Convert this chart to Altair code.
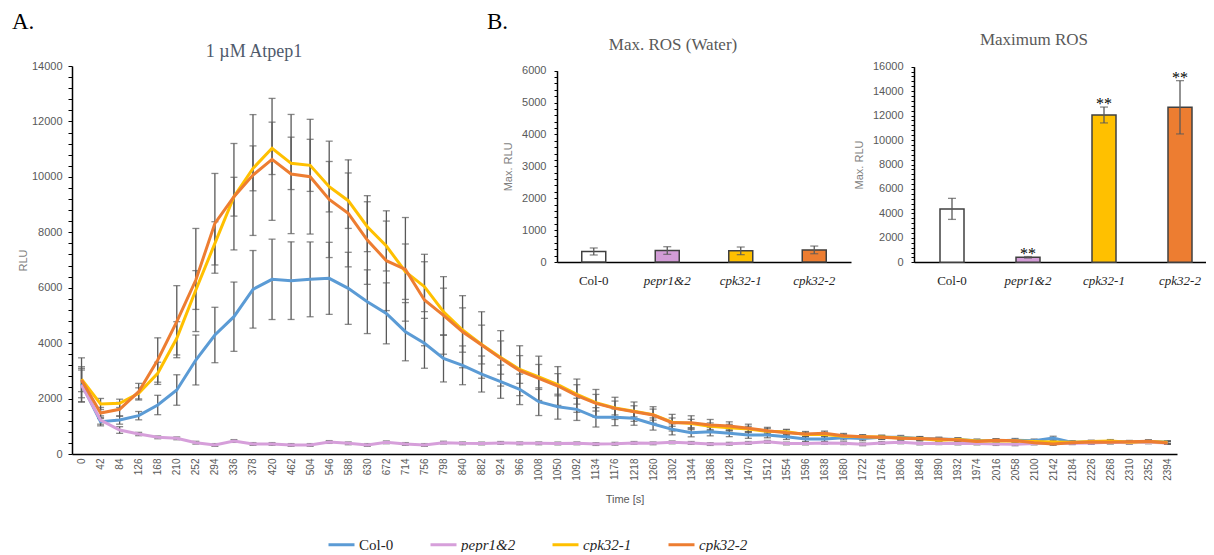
import altair as alt
import pandas as pd

# ---------------- data ----------------
times = list(range(0, 2395, 42))
series_names = ["Col-0", "pepr1&2", "cpk32-1", "cpk32-2"]
series_colors = ["#5B9BD5", "#D69FDA", "#FFC000", "#ED7D31"]

col0 = [2530, 1166, 1226, 1383, 1768, 2309, 3391, 4294, 4954, 5942,
        6302, 6254, 6302, 6338, 5978, 5495, 5075, 4413, 3994, 3450,
        3200, 2886, 2610, 2333, 1888, 1707, 1611, 1323, 1323, 1287,
        1082, 890, 770, 806, 746, 686, 686, 625, 541, 541,
        589, 560, 600, 600, 560, 540, 520, 480, 480, 500,
        480, 580, 420, 430, 440, 430, 440, 430]
pepr = [2490, 1226, 866, 721, 601, 565, 408, 325, 469, 361,
        361, 325, 325, 433, 385, 325, 421, 361, 325, 410,
        385, 380, 400, 385, 385, 380, 385, 360, 370, 400,
        385, 420, 400, 360, 370, 400, 440, 380, 380, 400,
        390, 350, 400, 420, 380, 390, 380, 380, 360, 350,
        380, 400, 390, 400, 420, 410, 420, 400]
cpk1 = [2700, 1804, 1828, 2188, 2911, 4174, 5917, 7601, 9284, 10307,
        11029, 10487, 10415, 9645, 9140, 8202, 7505, 6578, 6037, 5134,
        4473, 3950, 3480, 3050, 2780, 2500, 2150, 1850, 1660, 1540,
        1420, 1150, 1100, 1000, 950, 900, 820, 800, 700, 700,
        640, 620, 610, 580, 560, 500, 520, 470, 480, 470,
        450, 430, 420, 450, 470, 420, 450, 420]
cpk2 = [2670, 1480, 1612, 2248, 3391, 4774, 6278, 8323, 9284, 10066,
        10631, 10102, 10006, 9188, 8683, 7721, 6975, 6663, 5556, 5000,
        4413, 3933, 3451, 3006, 2730, 2453, 2104, 1828, 1647, 1527,
        1407, 1130, 1130, 1046, 1010, 926, 842, 770, 722, 746,
        661, 625, 601, 565, 550, 540, 505, 450, 500, 480,
        409, 361, 409, 430, 420, 440, 460, 400]

col0_err = [500, 150, 150, 150, 350, 550, 900, 1000, 1250, 1400,
            1450, 1400, 1350, 1300, 1300, 1150, 1100, 1050, 900, 850,
            700, 650, 600, 550, 500, 450, 400, 350, 300, 250,
            220, 200, 150, 150, 120, 120, 100, 100, 90, 90,
            80, 80, 70, 70, 70, 60, 60, 60, 60, 60,
            60, 60, 50, 50, 50, 50, 50, 50]
pepr_err = [600, 150, 120, 60, 50, 50, 50, 50, 50, 50,
            50, 50, 50, 50, 50, 50, 50, 50, 50, 50,
            50, 50, 50, 50, 50, 50, 50, 50, 50, 50,
            50, 50, 50, 50, 50, 50, 50, 50, 50, 50,
            50, 50, 50, 50, 50, 50, 50, 50, 50, 50,
            50, 50, 50, 50, 50, 50, 50, 50]
cpk1_err = [450, 200, 150, 200, 400, 600, 700, 780, 700, 810,
            945, 945, 940, 910, 1000, 900, 900, 1000, 900, 850,
            800, 700, 600, 500, 450, 400, 350, 300, 250, 200,
            200, 150, 150, 120, 120, 100, 100, 90, 80, 80,
            70, 70, 60, 60, 60, 60, 60, 50, 50, 50,
            50, 50, 50, 50, 50, 50, 50, 50]
cpk2_err = [800, 200, 250, 300, 800, 1300, 1860, 1800, 1920, 2180,
            2200, 2150, 2070, 2100, 1930, 1600, 1800, 1870, 1650, 1400,
            1300, 1200, 1000, 900, 800, 700, 600, 500, 400, 350,
            300, 300, 250, 200, 150, 150, 120, 100, 90, 80,
            80, 70, 70, 60, 60, 60, 60, 60, 50, 50,
            50, 50, 50, 50, 50, 50, 50, 50]

genos = ["Col-0", "pepr1&2", "cpk32-1", "cpk32-2"]
bar_colors = ["#FFFFFF", "#D29CD6", "#FFC000", "#ED7D31"]
water_mean = [330, 360, 350, 380]
water_err = [110, 120, 120, 120]
max_mean = [4370, 410, 12050, 12680]
max_err = [860, 60, 650, 2180]
max_sig = ["", "**", "**", "**"]

# ---------------- tables ----------------
rows = []
for name, vals, errs in zip(series_names, [col0, pepr, cpk1, cpk2],
                            [col0_err, pepr_err, cpk1_err, cpk2_err]):
    for t, v, e in zip(times, vals, errs):
        rows.append({"time": t, "series": name, "value": v, "lo": v - e, "hi": v + e})
df = pd.DataFrame(rows)

wdf = pd.DataFrame({"g": genos, "mean": water_mean,
                    "lo": [m - e for m, e in zip(water_mean, water_err)],
                    "hi": [m + e for m, e in zip(water_mean, water_err)],
                    "fill": bar_colors})
mdf = pd.DataFrame({"g": genos, "mean": max_mean,
                    "lo": [m - e for m, e in zip(max_mean, max_err)],
                    "hi": [m + e for m, e in zip(max_mean, max_err)],
                    "fill": bar_colors, "sig": max_sig})

GREY = "#595959"
AXGREY = "#7F7F7F"
SANS = "Liberation Sans"
SERIF = "Liberation Serif"

# ---------------- main chart ----------------
x_scale = alt.Scale(domain=[-21, 2415], nice=False, zero=False)
y_scale = alt.Scale(domain=[0, 14000], nice=False)
x_axis = alt.Axis(values=times, format="d", labelAngle=270, labelFont=SANS, labelFontSize=10,
                  labelColor=GREY, labelOverlap=False, labelFlush=False, labelPadding=4,
                  ticks=False, grid=False, domainColor="#000000", domainWidth=1.5,
                  title="Time [s]", titleFont=SANS, titleFontSize=11, titleFontWeight="normal",
                  titleColor=GREY, titlePadding=13)
y_axis = alt.Axis(values=list(range(0, 14001, 400)), format="d",
                  labelExpr="datum.value % 2000 === 0 ? datum.label : ''",
                  labelFont=SANS, labelFontSize=11, labelColor=GREY, labelOverlap=False,
                  labelPadding=6, tickSize=4, tickColor="#000000", grid=False,
                  domainColor="#000000", domainWidth=1.5,
                  title="RLU", titleFont=SANS, titleFontSize=11, titleFontWeight="normal",
                  titleColor=AXGREY, titlePadding=3)

mx = alt.X("time:Q", scale=x_scale, axis=x_axis)

err_rules = alt.Chart(df).mark_rule(color=GREY, strokeWidth=1.3).encode(
    x=mx, y=alt.Y("lo:Q", scale=y_scale, axis=y_axis), y2="hi:Q")
cap_lo = alt.Chart(df).mark_tick(color=GREY, orient="horizontal", size=7, thickness=1.3).encode(
    x=mx, y=alt.Y("lo:Q", scale=y_scale, axis=y_axis))
cap_hi = alt.Chart(df).mark_tick(color=GREY, orient="horizontal", size=7, thickness=1.3).encode(
    x=mx, y=alt.Y("hi:Q", scale=y_scale, axis=y_axis))
lines = alt.Chart(df).mark_line(strokeWidth=3).encode(
    x=mx, y=alt.Y("value:Q", scale=y_scale, axis=y_axis),
    color=alt.Color("series:N", sort=series_names,
                    scale=alt.Scale(domain=series_names, range=series_colors),
                    legend=alt.Legend(orient="none", legendX=255, legendY=464,
                                      direction="horizontal", title=None,
                                      symbolType="stroke", symbolStrokeWidth=3, symbolSize=676,
                                      labelFont=SERIF, labelFontSize=15, labelColor="#262626",
                                      labelFontStyle={"expr": "datum.label == 'Col-0' ? 'normal' : 'italic'"},
                                      labelOffset=3, columnPadding=30, padding=0)))
main = alt.layer(err_rules, cap_lo, cap_hi, lines)

# ---------------- inset helper ----------------
def inset(data, xrange, yrange, ymax, ystep, ylabstep, xoff, yoff):
    bw_frac = 24.0 / ((xrange[1] - xrange[0]) / 4.0)
    pin = 1 - bw_frac
    xs = alt.Scale(domain=genos, range=xrange, paddingInner=pin, paddingOuter=pin / 2)
    xa = alt.Axis(orient="bottom", offset=xoff, ticks=False, grid=False,
                  domainColor="#000000", domainWidth=1.5, labelAngle=0,
                  labelFont=SERIF, labelFontSize=13, labelColor="#262626", labelPadding=12,
                  labelFontStyle={"condition": {"test": "datum.label == 'Col-0'", "value": "normal"},
                                  "value": "italic"},
                  title=None)
    ys = alt.Scale(domain=[0, ymax], range=yrange, nice=False)
    ya = alt.Axis(orient="left", offset=yoff, values=list(range(0, ymax + 1, ystep)), format="d",
                  labelExpr="datum.value % " + str(ylabstep) + " === 0 ? datum.label : ''",
                  labelFont=SANS, labelFontSize=11, labelColor=GREY, labelOverlap=False,
                  labelPadding=8, tickSize=3, tickColor="#000000", grid=False,
                  domainColor="#000000", domainWidth=1.5,
                  title="Max. RLU", titleFont=SANS, titleFontSize=11, titleFontWeight="normal",
                  titleColor=AXGREY, titlePadding=8)
    ix = alt.X("g:N", scale=xs, axis=xa)
    bars = alt.Chart(data).mark_bar(stroke="#404040", strokeWidth=1.5).encode(
        x=ix, y=alt.Y("mean:Q", scale=ys, axis=ya),
        fill=alt.Fill("fill:N", scale=None))
    rules = alt.Chart(data).mark_rule(color=GREY, strokeWidth=1.3).encode(
        x=ix, y=alt.Y("lo:Q", scale=ys, axis=ya), y2="hi:Q")
    clo = alt.Chart(data).mark_tick(color=GREY, orient="horizontal", size=8, thickness=1.3).encode(
        x=ix, y=alt.Y("lo:Q", scale=ys, axis=ya))
    chi = alt.Chart(data).mark_tick(color=GREY, orient="horizontal", size=8, thickness=1.3).encode(
        x=ix, y=alt.Y("hi:Q", scale=ys, axis=ya))
    layers = [bars, rules, clo, chi]
    if "sig" in data.columns:
        stars = alt.Chart(data).mark_text(font=SERIF, fontSize=16, color="#000000",
                                          baseline="alphabetic", dy=2).encode(
            x=ix, y=alt.Y("hi:Q", scale=ys, axis=ya), text="sig:N")
        layers.append(stars)
    return alt.layer(*layers)

water = inset(wdf, [485, 779], [196, 4.7], 6000, 200, 1000, -192, -485)
maxros = inset(mdf, [842, 1146], [196.3, 0.7], 16000, 400, 2000, -192, -842)

# ---------------- annotations ----------------
def label(txt, x, y, size, color, align="left"):
    return alt.Chart(pd.DataFrame({"t": [txt]})).mark_text(
        font=SERIF, fontSize=size, color=color, align=align, baseline="alphabetic").encode(
        text="t:N", x=alt.value(x), y=alt.value(y))

ann = [
    label("A.", -60, -37, 23, "#000000"),
    label("B.", 415, -37, 23, "#000000"),
    label("1 µM Atpep1", 182, -9, 18, "#4F5A6B", "center"),
    label("Max. ROS (Water)", 601, -16, 17, GREY, "center"),
    label("Maximum ROS", 962, -21, 17, GREY, "center"),
]

chart = alt.layer(main, water, maxros, *ann).resolve_scale(
    x="independent", y="independent"
).properties(
    width=1105, height=388,
    autosize=alt.AutoSizeParams(type="none"),
    padding={"left": 64, "top": 58, "right": 29, "bottom": 98},
).configure_view(stroke=None)

chart.save("out.html", embed_options={"renderer": "svg", "actions": False})
